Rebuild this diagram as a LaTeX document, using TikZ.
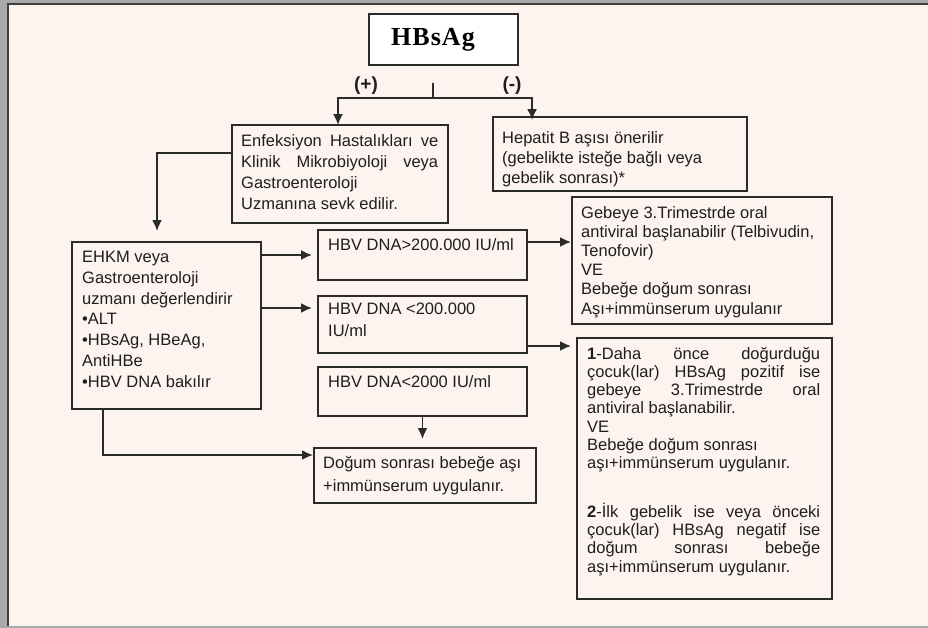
\documentclass[tikz,border=0pt]{standalone}
\usepackage{fontspec}
\setmainfont{Liberation Sans}
\newfontfamily\hbfont[LetterSpace=4]{Liberation Serif}
\usetikzlibrary{arrows.meta,calc}
\definecolor{bgc}{HTML}{FDF4EF}
\definecolor{ink}{HTML}{2B2B2B}
\definecolor{txt}{HTML}{1E1E1E}
\definecolor{framegray}{HTML}{A9A9A9}
\definecolor{framedark}{HTML}{3E3E3E}
\newcommand\myfs[1]{\fontsize{16.5}{#1}\selectfont}
\newcommand\jline[2]{\makebox[#1][s]{#2}}
\tikzset{
  box/.style={draw=ink, line width=1.9pt, rectangle, inner sep=0pt},
  arr/.style={draw=ink, line width=1.9pt, -{Latex[length=11pt,width=10pt]}},
  ln/.style={draw=ink, line width=1.9pt},
  txtnode/.style={anchor=north west, inner sep=0pt, align=left, text=txt},
  sign/.style={anchor=center, inner sep=0pt, text=txt, font=\bfseries\fontsize{19}{19}\selectfont},
}
\begin{document}
\begin{tikzpicture}[x=1pt,y=-1pt]
\useasboundingbox (0,0) rectangle (928,628);
% frame and background
\fill[framegray] (0,0) rectangle (928,628);
\fill[bgc] (9,5) rectangle (928,626);
\draw[line width=2pt, draw=framedark] (8,626) -- (8,4) -- (928,4);

% boxes
\node[box, fill=white, minimum width=149pt, minimum height=51pt] (hbs) at (443.5,39.5) {};
\node[box, minimum width=216pt, minimum height=98pt] (enf) at (340,174) {};
\node[box, minimum width=254pt, minimum height=74pt] (hep) at (620,154) {};
\node[box, minimum width=260pt, minimum height=127pt] (geb) at (702,260.5) {};
\node[box, minimum width=189pt, minimum height=167pt] (ehkm) at (166.5,325.5) {};
\node[box, minimum width=209pt, minimum height=50pt] (hbv1) at (422.5,255) {};
\node[box, minimum width=209pt, minimum height=57pt] (hbv2) at (422.5,324.5) {};
\node[box, minimum width=209pt, minimum height=49pt] (hbv3) at (422.5,391.5) {};
\node[box, minimum width=222pt, minimum height=55pt] (dog) at (425,475.5) {};
\node[box, minimum width=255pt, minimum height=261pt] (d1) at (704.5,468.5) {};

% texts
\node[anchor=base, inner sep=0pt, text=black, font=\hbfont\bfseries\fontsize{26}{26}\selectfont] (hbst) at (433,46) {HBsAg};
\node[sign] (pos) at (366,86) {(+)};
\node[sign] (neg) at (512,86) {(-)};

\node[txtnode, font=\myfs{21}] (enft) at (241,134)
  {\jline{197pt}{Enfeksiyon Hastalıkları ve}\\
   \jline{197pt}{Klinik Mikrobiyoloji veya}\\
   Gastroenteroloji\\
   Uzmanına sevk edilir.};
\node[txtnode, font=\myfs{20}] (hept) at (502,131)
  {Hepatit B aşısı önerilir\\
   (gebelikte isteğe bağlı veya\\
   gebelik sonrası)*};
\node[txtnode, font=\myfs{19.2}] (gebt) at (581,206)
  {Gebeye 3.Trimestrde oral\\
   antiviral başlanabilir (Telbivudin,\\
   Tenofovir)\\
   VE\\
   Bebeğe doğum sonrası\\
   Aşı+immünserum uygulanır};
\node[txtnode, font=\myfs{20.8}] (ehkmt) at (82,251)
  {EHKM veya\\
   Gastroenteroloji\\
   uzmanı değerlendirir\\
   •ALT\\
   •HBsAg, HBeAg,\\
   AntiHBe\\
   •HBV DNA bakılır};
\node[txtnode, font=\myfs{22}] (hbv1t) at (328,238) {HBV DNA>200.000 IU/ml};
\node[txtnode, font=\myfs{22}] (hbv2t) at (328,303) {HBV DNA <200.000\\ IU/ml};
\node[txtnode, font=\myfs{22}] (hbv3t) at (328,375) {HBV DNA<2000 IU/ml};
\node[txtnode, font=\myfs{23}] (dogt) at (323,456)
  {Doğum sonrası bebeğe aşı\\
   +immünserum uygulanır.};
\node[txtnode, font=\myfs{18.2}] (d1t) at (587,347)
  {\jline{233pt}{\textbf{1}-Daha önce doğurduğu}\\
   \jline{233pt}{çocuk(lar) HBsAg pozitif ise}\\
   \jline{233pt}{gebeye 3.Trimestrde oral}\\
   antiviral başlanabilir.\\
   VE\\
   Bebeğe doğum sonrası\\
   aşı+immünserum uygulanır.\\[30.8pt]
   \jline{233pt}{\textbf{2}-İlk gebelik ise veya önceki}\\
   \jline{233pt}{çocuk(lar) HBsAg negatif ise}\\
   \jline{233pt}{doğum sonrası bebeğe}\\
   aşı+immünserum uygulanır.};

% connectors
\coordinate (tick) at (433,83);
\coordinate (split) at (433,98);
\draw[ln] (tick) -- (split);
\draw[arr] (split) -| ([xshift=-2pt,yshift=-1pt]enf.north);
\draw[arr] (split) -| ([xshift=40pt,yshift=-4pt]hep.north west);
\draw[arr] ([yshift=-29pt]enf.north west) -| ([xshift=-9.5pt,yshift=10pt]ehkm.north);
\path ([yshift=16.5pt]hbv2.west) coordinate (h2in);
\draw[arr] (ehkm.east |- hbv1.west) -- ([xshift=-5pt]hbv1.west);
\draw[arr] (ehkm.east |- h2in) -- ([xshift=-5pt]h2in);
\path ([yshift=13pt]hbv1.east) coordinate (h1out);
\path (geb.west |- h1out) coordinate (gebin);
\draw[arr] (h1out) -- (gebin);
\path ([yshift=-21.5pt]hbv2.east) coordinate (h2out);
\path (d1.west |- h2out) coordinate (d1in);
\draw[arr] (h2out) -- ([xshift=-5pt]d1in);
\path (hbv3.south |- dog.north) coordinate (dogin);
\draw[arr] (hbv3.south) -- ([yshift=8pt]dogin);
\draw[arr] ([xshift=-63.5pt]ehkm.south) |- ([yshift=20.5pt]dog.west);
\end{tikzpicture}
\end{document}
